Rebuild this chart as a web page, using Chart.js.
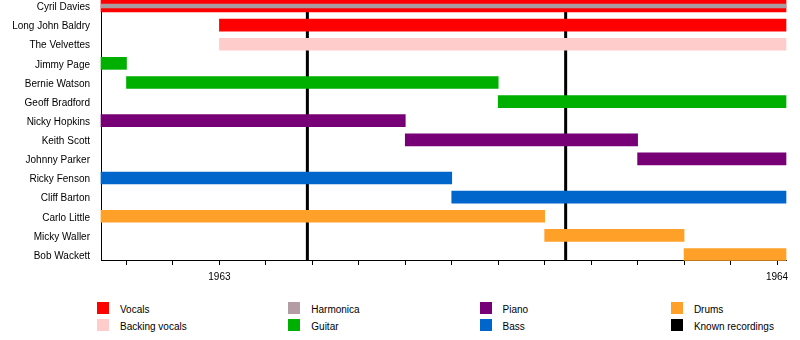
<!DOCTYPE html>
<html>
<head>
<meta charset="utf-8">
<script src="https://cdn.jsdelivr.net/npm/chart.js@4"></script>
<style>
  body { margin: 0; background: #fff; font-family: "Liberation Sans", Arial, sans-serif; }
  #wrap { position: relative; width: 800px; height: 340px; }
  #legend { position: absolute; left: 0; top: 302px; width: 800px; height: 36px; }
  .item { position: absolute; height: 12px; font-size: 10px; line-height: 12px; color: #000; white-space: nowrap; }
  .item span { position: absolute; left: 0; top: 0; width: 12px; height: 12px; }
  .item b { position: absolute; left: 23px; top: 2px; font-weight: normal; }
</style>
</head>
<body>
<div id="wrap">
  <canvas id="chart" width="800" height="290"></canvas>
  <div id="legend"></div>
</div>
<script>
// membres, du haut vers le bas
const members = ['Cyril Davies', 'Long John Baldry', 'The Velvettes', 'Jimmy Page', 'Bernie Watson',
  'Geoff Bradford', 'Nicky Hopkins', 'Keith Scott', 'Johnny Parker', 'Ricky Fenson',
  'Cliff Barton', 'Carlo Little', 'Micky Waller', 'Bob Wackett'];

const startDate = '1962-10-15';
const endDate = '1964-01-07';

// [membre, debut, fin]
const vocals = [['Cyril Davies', startDate, endDate], ['Long John Baldry', '1963-01-01', endDate]];
const backingVocals = [['The Velvettes', '1963-01-01', endDate]];
const harmonica = [['Cyril Davies', startDate, endDate]];
const guitar = [['Jimmy Page', startDate, '1962-11-01'], ['Bernie Watson', '1962-11-01', '1963-07-01'],
  ['Geoff Bradford', '1963-07-01', endDate]];
const piano = [['Nicky Hopkins', startDate, '1963-05-01'], ['Keith Scott', '1963-05-01', '1963-10-01'],
  ['Johnny Parker', '1963-10-01', endDate]];
const bass = [['Ricky Fenson', startDate, '1963-06-01'], ['Cliff Barton', '1963-06-01', endDate]];
const drums = [['Carlo Little', startDate, '1963-08-01'], ['Micky Waller', '1963-08-01', '1963-11-01'],
  ['Bob Wackett', '1963-11-01', endDate]];
const recordings = ['1963-02-26', '1963-08-15'];

const yearTicks = [1963, 1964];

const legendItems = [
  ['Vocals', '#ff0000'], ['Backing vocals', '#ffcccc'],
  ['Harmonica', '#b49ca4'], ['Guitar', '#00b000'],
  ['Piano', '#770077'], ['Bass', '#0066cc'],
  ['Drums', '#ffa028'], ['Known recordings', '#000000']
];

// date -> mois depuis janvier 1962
function toMonths(str) {
  const [y, m, d] = str.split('-').map(Number);
  const days = new Date(y, m, 0).getDate();
  return (y - 1962) * 12 + (m - 1) + (d - 1) / days;
}

const xMin = toMonths(startDate);
const xMax = toMonths(endDate);
const yMin = -0.314;
const yMax = 13.288;

function barSet(label, rows, color, thickness, order) {
  return {
    label: label,
    data: rows.map(r => ({ x: [toMonths(r[1]), toMonths(r[2])], y: members.indexOf(r[0]) })),
    backgroundColor: color,
    barThickness: thickness,
    grouped: false,
    borderWidth: 0,
    clip: false,
    order: order
  };
}

const colorOf = name => legendItems.find(l => l[0] === name)[1];

const datasets = [
  barSet('Vocals', vocals, colorOf('Vocals'), 12, 2),
  barSet('Backing vocals', backingVocals, colorOf('Backing vocals'), 12, 2),
  barSet('Harmonica', harmonica, '#a89ea2', 4, 1),
  barSet('Guitar', guitar, colorOf('Guitar'), 12, 2),
  barSet('Piano', piano, colorOf('Piano'), 12, 2),
  barSet('Bass', bass, colorOf('Bass'), 12, 2),
  barSet('Drums', drums, colorOf('Drums'), 12, 2)
];

recordings.forEach(r => {
  datasets.push({
    type: 'line',
    label: 'Known recordings',
    data: [{ x: toMonths(r), y: yMin }, { x: toMonths(r), y: yMax }],
    borderColor: '#000',
    borderWidth: 3,
    pointRadius: 0,
    order: 10
  });
});

new Chart(document.getElementById('chart'), {
  type: 'bar',
  data: { datasets: datasets },
  options: {
    indexAxis: 'y',
    responsive: false,
    animation: false,
    layout: { padding: { left: 0, right: 14, top: 0, bottom: 0 } },
    plugins: { legend: { display: false }, tooltip: { enabled: false } },
    scales: {
      x: {
        type: 'linear',
        min: xMin,
        max: xMax,
        offset: false,
        border: { display: true, color: '#000', width: 1 },
        grid: { display: true, drawOnChartArea: false, drawTicks: true, tickLength: 5, color: '#000' },
        ticks: {
          stepSize: 1,
          includeBounds: false,
          autoSkip: false,
          maxRotation: 0,
          padding: 6,
          color: '#000',
          font: { family: 'Liberation Sans', size: 10 },
          callback: v => {
            const year = 1962 + v / 12;
            return yearTicks.includes(year) ? String(year) : '';
          }
        },
        afterFit: s => { s.height = 30; s.paddingLeft = 0; s.paddingRight = 0; }
      },
      y: {
        type: 'linear',
        reverse: true,
        offset: false,
        min: yMin,
        max: yMax,
        border: { display: true, color: '#000', width: 1 },
        // marques invisibles : elles servent seulement d'ecart entre noms et axe
        grid: { display: true, offset: false, drawOnChartArea: false, drawTicks: true, tickLength: 11, color: 'rgba(0,0,0,0)' },
        ticks: {
          stepSize: 1,
          includeBounds: false,
          autoSkip: false,
          padding: 0,
          labelOffset: 1.5,
          color: '#000',
          font: { family: 'Liberation Sans', size: 10, lineHeight: 0.01 },
          callback: v => members[v] || ''
        },
        afterFit: s => { s.width = 101; s.paddingTop = 0; s.paddingBottom = 0; }
      }
    }
  }
});

// legende en colonnes
const legend = document.getElementById('legend');
legendItems.forEach((item, i) => {
  const col = Math.floor(i / 2);
  const row = i % 2;
  const div = document.createElement('div');
  div.className = 'item';
  div.style.left = (97 + col * 191.3) + 'px';
  div.style.top = (row * 17) + 'px';
  div.innerHTML = '<span style="background:' + item[1] + '"></span><b>' + item[0] + '</b>';
  legend.appendChild(div);
});
</script>
</body>
</html>
